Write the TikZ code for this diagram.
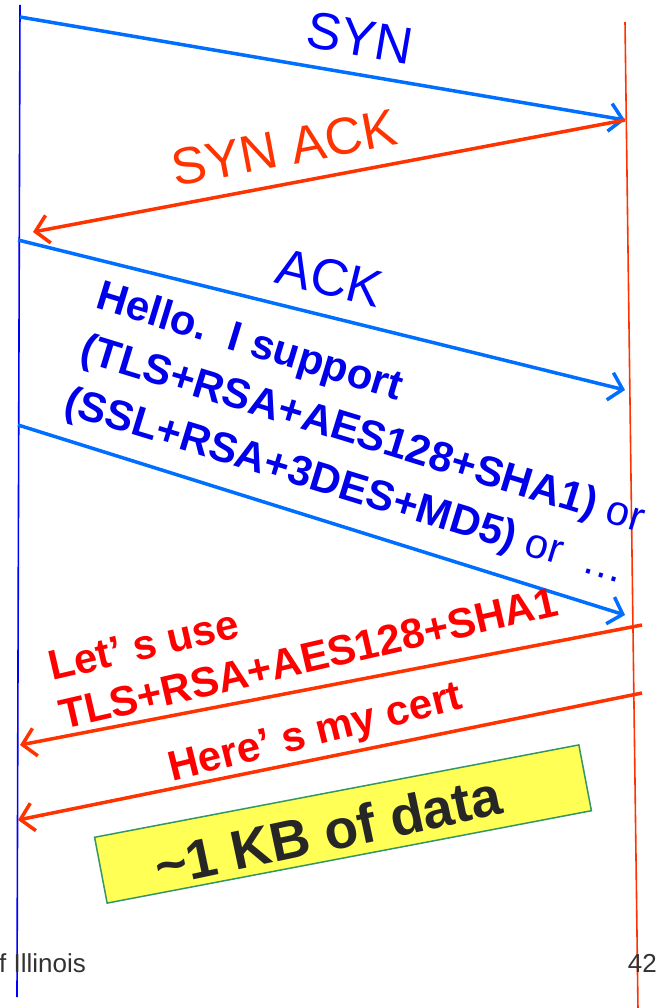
\documentclass[tikz,border=0pt]{standalone}
\usepackage{fontspec}
\setmainfont{Liberation Sans}
\usetikzlibrary{arrows.meta}
\definecolor{arrblue}{RGB}{0,110,255}
\definecolor{txtblue}{RGB}{0,0,235}
\definecolor{ored}{RGB}{255,51,0}
\definecolor{txtred}{RGB}{255,0,0}
\definecolor{boxyellow}{RGB}{255,255,85}
\definecolor{boxgreen}{RGB}{51,150,100}
\definecolor{foot}{RGB}{50,50,50}
\begin{document}
\begin{tikzpicture}[x=1pt,y=1pt,
  msg/.style={line width=3.5pt,-{Straight Barb[length=13pt,width=28pt]}},
  life/.style={line width=1.6pt},
  biglabel/.style={inner sep=0pt,font=\fontsize{52}{60}\selectfont},
  boldlabel/.style={inner sep=0pt,align=left,font=\fontsize{42}{50}\bfseries\selectfont},
  footer/.style={inner sep=0pt,text=foot,font=\fontsize{26}{30}\selectfont}]
\useasboundingbox (0,0) rectangle (664,-1008);
\fill[white] (0,0) rectangle (664,-1008);
% lifelines
\coordinate (bt) at (20,-5);
\coordinate (bb) at (17,-997);
\coordinate (rt) at (625,-22);
\coordinate (rb) at (638,-1010);
\draw[life,blue] (bt) -- (bb);
\draw[life,ored] (rt) -- (rb);
% message end points
\coordinate (s1) at (20,-17);
\coordinate (e1) at (625,-120);
\coordinate (e2) at (33,-232);
\coordinate (s3) at (18,-240);
\coordinate (e3) at (625,-390);
\coordinate (s4) at (18,-425);
\coordinate (e4) at (625,-615);
\coordinate (s5) at (642,-625);
\coordinate (e5) at (20,-745);
\coordinate (s6) at (642,-693);
\coordinate (e6) at (18,-820);
% messages
\draw[msg,arrblue] (s1) -- (e1);
\draw[msg,ored] (e1) -- (e2);
\draw[msg,arrblue] (s3) -- (e3);
\draw[msg,arrblue] (s4) -- (e4);
\draw[msg,ored] (s5) -- (e5);
\draw[msg,ored] (s6) -- (e6);
% labels
\node[biglabel,text=blue,rotate=-9.7] (syn) at (360,-38) {SYN};
\node[biglabel,text=ored,rotate=10.7] (synack) at (284,-148) {SYN ACK};
\node[biglabel,text=blue,rotate=-14] (ack) at (330,-278) {ACK};
\node[boldlabel,text=txtblue,rotate=-17,font=\fontsize{42}{55}\bfseries\selectfont] (hello) at (362,-436)
  {Hello.\ \ I support\\
   (TLS+RSA+AES128+SHA1)\mdseries{} or\\
   (SSL+RSA+3DES+MD5)\mdseries{} or\ \ …};
\node[boldlabel,text=txtred,rotate=13] (letsuse) at (303,-634)
  {Let’ s use\\ TLS+RSA+AES128+SHA1};
\node[boldlabel,text=txtred,rotate=14] (cert) at (316,-735) {Here’ s my cert};
% data box
\node[draw=boxgreen,line width=1.5pt,fill=boxyellow,rotate=10.8,
      minimum width=493pt,minimum height=67pt,inner sep=0pt] (box) at (343,-824) {};
\node[inner sep=0pt,text=black!85,rotate=12,font=\fontsize{55}{60}\bfseries\selectfont]
  (data) at (328,-831) {\textasciitilde 1 KB of data};
% footer
\node[footer,anchor=base west] (inst) at (-1,-972) {f Illinois};
\node[footer,anchor=base east] (page) at (657,-972) {42};
\end{tikzpicture}
\end{document}
